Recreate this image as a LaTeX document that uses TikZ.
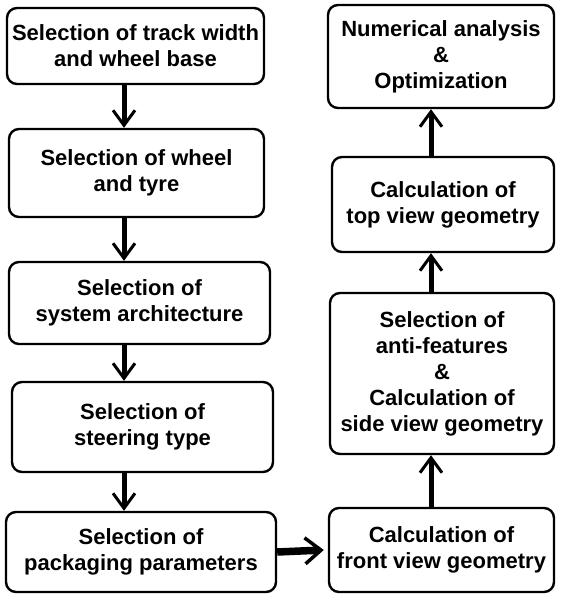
\documentclass[tikz,border=0pt]{standalone}
\usepackage{fontspec}
\setmainfont{Liberation Sans}
\usetikzlibrary{arrows.meta,positioning}

\begin{document}
\begin{tikzpicture}[x=1pt,y=-1pt,
  stagebox/.style={draw,line width=2.4pt,rounded corners=10pt,align=center,inner sep=0pt,font=\bfseries\fontsize{22}{26}\selectfont},
  flow/.style={line width=5pt,-{Straight Barb[length=15pt,width=22pt,line width=3pt]}},
  thickflow/.style={line width=7.5pt,-{Straight Barb[length=16pt,width=26pt,line width=3.5pt]}}]
\useasboundingbox (0,0) rectangle (560,594);

% left column
\node[stagebox,minimum width=257pt,minimum height=76pt] (sel1) at (135.5,46) {Selection of track width\\and wheel base};
\node[stagebox,minimum width=255pt,minimum height=88pt] (sel2) at (136.5,173) {Selection of wheel\\and tyre};
\node[stagebox,minimum width=261pt,minimum height=82pt] (sel3) at (139.5,303) {Selection of\\system architecture};
\node[stagebox,minimum width=261pt,minimum height=90pt] (sel4) at (142.5,427) {Selection of\\steering type};
\node[stagebox,minimum width=270pt,minimum height=80pt] (sel5) at (141,552) {Selection of\\packaging parameters};

% right column
\node[stagebox,minimum width=225pt,minimum height=84pt] (calc1) at (441.5,550) {Calculation of\\front view geometry};
\node[stagebox,minimum width=224pt,minimum height=161pt] (calc2) at (442,373.5) {Selection of\\anti-features\\\&\\Calculation of\\side view geometry};
\node[stagebox,minimum width=222pt,minimum height=95pt] (calc3) at (443,204.5) {Calculation of\\top view geometry};
\node[stagebox,minimum width=226pt,minimum height=103pt] (opt) at (441,56.5) {Numerical analysis\\\&\\Optimization};

\coordinate (colL) at (124,0);
\coordinate (colR) at (431,0);

% arrows
\draw[flow] (sel1.south -| colL) -- (sel2.north -| colL);
\draw[flow] (sel2.south -| colL) -- (sel3.north -| colL);
\draw[flow] (sel3.south -| colL) -- (sel4.north -| colL);
\draw[flow] (sel4.south -| colL) -- (sel5.north -| colL);
\draw[thickflow] (sel5.east) -- ([xshift=-4pt]calc1.west);
\draw[flow] (calc1.north -| colR) -- (calc2.south -| colR);
\draw[flow] (calc2.north -| colR) -- (calc3.south -| colR);
\draw[flow] (calc3.north -| colR) -- (opt.south -| colR);

\end{tikzpicture}
\end{document}
